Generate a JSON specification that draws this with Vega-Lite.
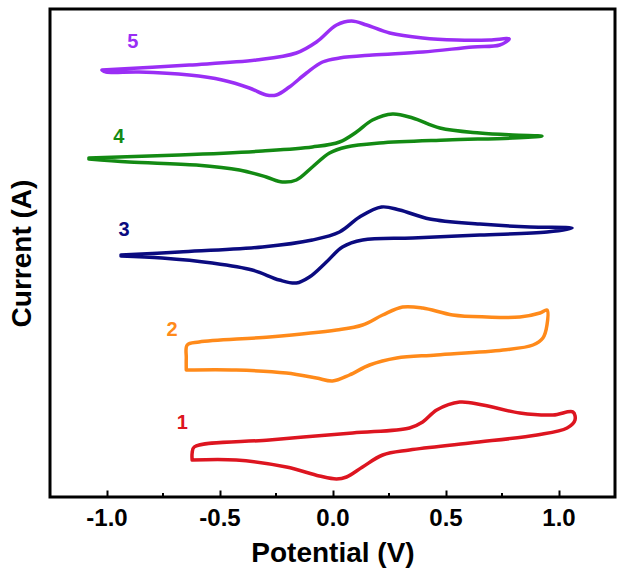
{
  "$schema": "https://vega.github.io/schema/vega-lite/v6.json",
  "width": 565,
  "height": 488,
  "padding": {"left": 8, "top": 9, "right": 3, "bottom": 4},
  "background": "white",
  "config": {
    "view": {"stroke": "black", "strokeWidth": 3},
    "font": "Liberation Sans"
  },
  "datasets": {
    "cv": [
      {"s":"5","i":1,"E":-1.020,"I":427},{"s":"5","i":2,"E":-0.634,"I":432},{"s":"5","i":3,"E":-0.337,"I":437},{"s":"5","i":4,"E":-0.160,"I":444},{"s":"5","i":5,"E":-0.071,"I":455},{"s":"5","i":6,"E":0.018,"I":472},{"s":"5","i":7,"E":0.084,"I":476},{"s":"5","i":8,"E":0.151,"I":472},{"s":"5","i":9,"E":0.253,"I":464},{"s":"5","i":10,"E":0.399,"I":459},{"s":"5","i":11,"E":0.550,"I":457},{"s":"5","i":12,"E":0.696,"I":457},{"s":"5","i":13,"E":0.782,"I":458},{"s":"5","i":14,"E":0.740,"I":452},{"s":"5","i":15,"E":0.621,"I":450},{"s":"5","i":16,"E":0.399,"I":445},{"s":"5","i":17,"E":0.177,"I":442},{"s":"5","i":18,"E":0.031,"I":439},{"s":"5","i":19,"E":-0.044,"I":435},{"s":"5","i":20,"E":-0.115,"I":424},{"s":"5","i":21,"E":-0.191,"I":410},{"s":"5","i":22,"E":-0.248,"I":402},{"s":"5","i":23,"E":-0.293,"I":402},{"s":"5","i":24,"E":-0.368,"I":409},{"s":"5","i":25,"E":-0.488,"I":417},{"s":"5","i":26,"E":-0.634,"I":422},{"s":"5","i":27,"E":-0.856,"I":425},{"s":"5","i":28,"E":-1.002,"I":425},{"s":"5","i":29,"E":-1.020,"I":427},
      {"s":"4","i":1,"E":-1.078,"I":339},{"s":"4","i":2,"E":-0.678,"I":342},{"s":"4","i":3,"E":-0.310,"I":346},{"s":"4","i":4,"E":-0.089,"I":350},{"s":"4","i":5,"E":0.031,"I":355},{"s":"4","i":6,"E":0.106,"I":365},{"s":"4","i":7,"E":0.177,"I":377},{"s":"4","i":8,"E":0.266,"I":383},{"s":"4","i":9,"E":0.355,"I":379},{"s":"4","i":10,"E":0.475,"I":369},{"s":"4","i":11,"E":0.652,"I":364},{"s":"4","i":12,"E":0.798,"I":362},{"s":"4","i":13,"E":0.927,"I":361},{"s":"4","i":14,"E":0.798,"I":359},{"s":"4","i":15,"E":0.506,"I":357},{"s":"4","i":16,"E":0.208,"I":354},{"s":"4","i":17,"E":0.062,"I":350},{"s":"4","i":18,"E":-0.013,"I":344},{"s":"4","i":19,"E":-0.089,"I":330},{"s":"4","i":20,"E":-0.160,"I":317},{"s":"4","i":21,"E":-0.222,"I":315},{"s":"4","i":22,"E":-0.293,"I":320},{"s":"4","i":23,"E":-0.412,"I":327},{"s":"4","i":24,"E":-0.603,"I":332},{"s":"4","i":25,"E":-0.900,"I":335},{"s":"4","i":26,"E":-1.078,"I":338},
      {"s":"3","i":1,"E":-0.936,"I":242},{"s":"3","i":2,"E":-0.678,"I":245},{"s":"3","i":3,"E":-0.310,"I":250},{"s":"3","i":4,"E":-0.089,"I":257},{"s":"3","i":5,"E":0.031,"I":265},{"s":"3","i":6,"E":0.120,"I":280},{"s":"3","i":7,"E":0.217,"I":290},{"s":"3","i":8,"E":0.297,"I":287},{"s":"3","i":9,"E":0.430,"I":278},{"s":"3","i":10,"E":0.652,"I":273},{"s":"3","i":11,"E":0.874,"I":270},{"s":"3","i":12,"E":1.060,"I":269},{"s":"3","i":13,"E":0.949,"I":265},{"s":"3","i":14,"E":0.652,"I":262},{"s":"3","i":15,"E":0.355,"I":259},{"s":"3","i":16,"E":0.133,"I":257},{"s":"3","i":17,"E":0.044,"I":250},{"s":"3","i":18,"E":-0.027,"I":235},{"s":"3","i":19,"E":-0.102,"I":220},{"s":"3","i":20,"E":-0.160,"I":214},{"s":"3","i":21,"E":-0.235,"I":217},{"s":"3","i":22,"E":-0.355,"I":227},{"s":"3","i":23,"E":-0.532,"I":234},{"s":"3","i":24,"E":-0.754,"I":239},{"s":"3","i":25,"E":-0.936,"I":241},
      {"s":"2","i":1,"E":-0.647,"I":127},{"s":"2","i":2,"E":-0.647,"I":139},{"s":"2","i":3,"E":-0.643,"I":152},{"s":"2","i":4,"E":-0.590,"I":155},{"s":"2","i":5,"E":-0.279,"I":160},{"s":"2","i":6,"E":0.018,"I":167},{"s":"2","i":7,"E":0.133,"I":172},{"s":"2","i":8,"E":0.222,"I":182},{"s":"2","i":9,"E":0.310,"I":190},{"s":"2","i":10,"E":0.399,"I":189},{"s":"2","i":11,"E":0.532,"I":182},{"s":"2","i":12,"E":0.683,"I":180},{"s":"2","i":13,"E":0.829,"I":180},{"s":"2","i":14,"E":0.918,"I":184},{"s":"2","i":15,"E":0.949,"I":187},{"s":"2","i":16,"E":0.949,"I":172},{"s":"2","i":17,"E":0.931,"I":159},{"s":"2","i":18,"E":0.887,"I":152},{"s":"2","i":19,"E":0.754,"I":147},{"s":"2","i":20,"E":0.461,"I":142},{"s":"2","i":21,"E":0.284,"I":139},{"s":"2","i":22,"E":0.164,"I":132},{"s":"2","i":23,"E":0.075,"I":122},{"s":"2","i":24,"E":0.000,"I":116},{"s":"2","i":25,"E":-0.071,"I":119},{"s":"2","i":26,"E":-0.204,"I":124},{"s":"2","i":27,"E":-0.426,"I":127},{"s":"2","i":28,"E":-0.647,"I":127},
      {"s":"1","i":1,"E":-0.621,"I":37},{"s":"1","i":2,"E":-0.621,"I":44},{"s":"1","i":3,"E":-0.612,"I":50},{"s":"1","i":4,"E":-0.279,"I":57},{"s":"1","i":5,"E":0.089,"I":64},{"s":"1","i":6,"E":0.341,"I":69},{"s":"1","i":7,"E":0.399,"I":75},{"s":"1","i":8,"E":0.461,"I":87},{"s":"1","i":9,"E":0.563,"I":95},{"s":"1","i":10,"E":0.665,"I":92},{"s":"1","i":11,"E":0.829,"I":84},{"s":"1","i":12,"E":0.976,"I":82},{"s":"1","i":13,"E":1.064,"I":85},{"s":"1","i":14,"E":1.073,"I":77},{"s":"1","i":15,"E":1.038,"I":69},{"s":"1","i":16,"E":0.905,"I":62},{"s":"1","i":17,"E":0.608,"I":54},{"s":"1","i":18,"E":0.341,"I":47},{"s":"1","i":19,"E":0.222,"I":42},{"s":"1","i":20,"E":0.133,"I":30},{"s":"1","i":21,"E":0.062,"I":20},{"s":"1","i":22,"E":0.018,"I":18},{"s":"1","i":23,"E":-0.058,"I":21},{"s":"1","i":24,"E":-0.204,"I":30},{"s":"1","i":25,"E":-0.426,"I":37},{"s":"1","i":26,"E":-0.621,"I":37}
    ],
    "labels": [
      {"s":"5","E":-0.884,"I":455},
      {"s":"4","E":-0.945,"I":360},
      {"s":"3","E":-0.922,"I":267},
      {"s":"2","E":-0.710,"I":167},
      {"s":"1","E":-0.665,"I":74}
    ],
    "minor": [{"E":-0.75},{"E":-0.25},{"E":0.25},{"E":0.75}]
  },
  "layer": [
    {
      "data": {"name": "cv"},
      "mark": {"type": "line", "strokeWidth": 3.5, "interpolate": "catmull-rom", "strokeJoin": "round", "strokeCap": "round"},
      "encoding": {
        "x": {
          "field": "E", "type": "quantitative",
          "scale": {"domain": [-1.25, 1.25], "nice": false, "zero": false},
          "axis": {
            "title": "Potential (V)",
            "values": [-1, -0.5, 0, 0.5, 1],
            "labelExpr": "datum.value < 0 ? '-' + format(abs(datum.value), '.1f') : format(datum.value, '.1f')",
            "ticks": true,
            "tickSize": -7,
            "tickWidth": 2,
            "tickColor": "black",
            "domain": false,
            "grid": false,
            "labelPadding": 16,
            "labelFontSize": 24,
            "labelFontWeight": "bold",
            "labelColor": "black",
            "labelFont": "Liberation Sans",
            "titleFontSize": 28,
            "titleFontWeight": "bold",
            "titleColor": "black",
            "titleFont": "Liberation Sans",
            "titlePadding": 9
          }
        },
        "y": {
          "field": "I", "type": "quantitative",
          "scale": {"domain": [0, 488], "nice": false, "zero": false},
          "axis": {
            "title": "Current (A)",
            "labels": false,
            "ticks": false,
            "domain": false,
            "grid": false,
            "titleFontSize": 28,
            "titleFontWeight": "bold",
            "titleColor": "black",
            "titleFont": "Liberation Sans",
            "titlePadding": 14
          }
        },
        "order": {"field": "i", "type": "quantitative"},
        "color": {
          "field": "s", "type": "nominal", "legend": null,
          "scale": {"domain": ["1","2","3","4","5"], "range": ["#DD1520","#FF8A1A","#0B0B80","#138A13","#9A2EF5"]}
        }
      }
    },
    {
      "data": {"name": "minor"},
      "mark": {"type": "rule", "color": "black", "strokeWidth": 2},
      "encoding": {
        "x": {"field": "E", "type": "quantitative"},
        "y": {"datum": 0},
        "y2": {"datum": 4}
      }
    },
    {
      "data": {"name": "labels"},
      "mark": {"type": "text", "fontSize": 20, "fontWeight": "bold", "font": "Liberation Sans", "align": "center", "baseline": "middle"},
      "encoding": {
        "x": {"field": "E", "type": "quantitative"},
        "y": {"field": "I", "type": "quantitative"},
        "text": {"field": "s"},
        "color": {"field": "s", "type": "nominal", "legend": null}
      }
    }
  ]
}
